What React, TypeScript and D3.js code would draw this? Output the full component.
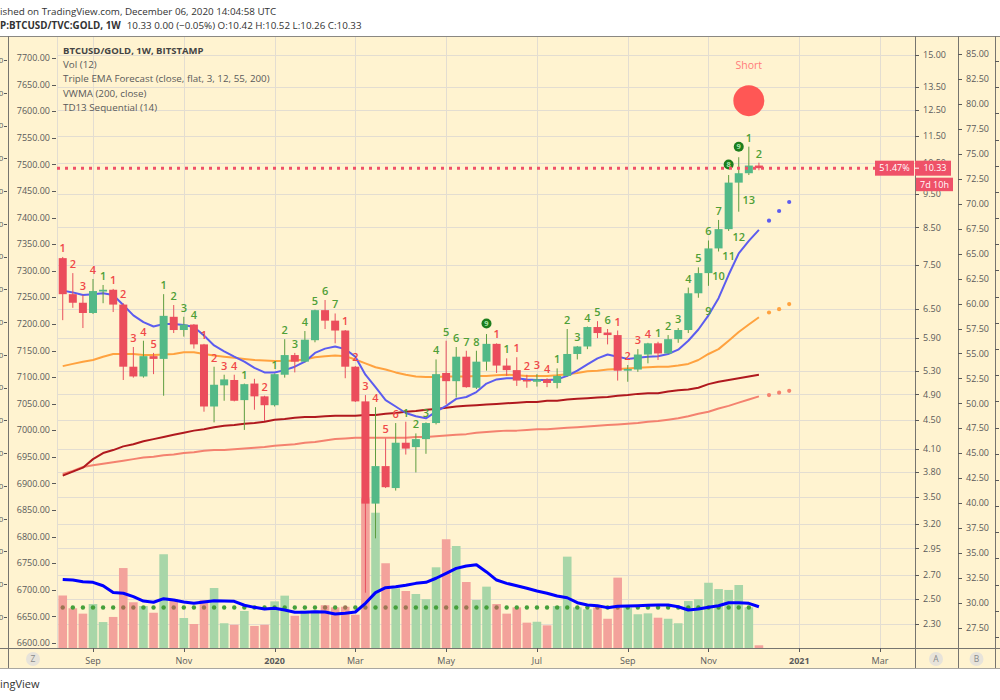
import React from "react";
import * as d3 from "d3";

// ---------- categories ----------
const weeks: Date[] = d3.utcMonday.range(new Date(Date.UTC(2019, 7, 12)), new Date(Date.UTC(2020, 11, 8)));
const forecastWeeks: Date[] = [new Date(Date.UTC(2020, 11, 14)), new Date(Date.UTC(2020, 11, 21)), new Date(Date.UTC(2020, 11, 28))];

// ---------- price (BTCUSD/GOLD) ----------
const opens = [7.68, 6.82, 6.63, 6.41, 6.88, 6.92, 6.59, 5.37, 5.20, 5.56, 5.51, 6.33, 6.06, 6.17, 5.78, 4.71, 5.05, 5.14, 4.81, 5.08, 4.87, 4.73, 5.23, 5.58, 5.46, 5.86, 6.47, 6.25, 6.05, 5.37, 4.79, 3.42, 3.87, 3.60, 4.18, 4.12, 4.23, 4.46, 5.26, 5.12, 5.55, 5.01, 5.46, 5.79, 5.39, 5.31, 5.14, 5.11, 5.15, 5.09, 5.21, 5.60, 5.74, 6.12, 6.01, 5.96, 5.30, 5.32, 5.59, 5.80, 5.61, 5.88, 6.06, 6.84, 7.31, 7.93, 8.45, 9.85, 10.16, 10.42];
const highs = [7.71, 7.31, 6.80, 7.17, 7.03, 6.94, 6.62, 5.73, 5.85, 5.62, 6.82, 6.58, 6.33, 6.18, 5.79, 5.37, 5.23, 5.23, 5.08, 5.16, 4.88, 5.25, 5.88, 5.62, 6.04, 6.48, 6.69, 6.40, 6.06, 5.38, 4.89, 4.70, 4.24, 4.46, 4.48, 4.31, 4.47, 5.50, 5.85, 5.73, 5.66, 5.66, 5.98, 5.80, 5.52, 5.54, 5.23, 5.24, 5.17, 5.34, 6.08, 5.75, 6.13, 6.24, 6.08, 6.05, 5.40, 5.69, 5.81, 5.83, 5.96, 6.10, 6.97, 7.45, 8.14, 8.71, 10.10, 10.71, 11.09, 10.52];
const lows = [6.26, 6.52, 6.10, 6.39, 6.62, 6.43, 5.14, 5.18, 5.18, 5.24, 4.88, 6.00, 5.93, 5.70, 4.63, 4.47, 4.80, 4.79, 4.36, 4.66, 4.49, 4.71, 5.18, 5.27, 5.45, 5.82, 6.08, 5.80, 5.17, 4.78, 2.55, 3.05, 3.60, 3.57, 4.02, 3.79, 4.03, 4.44, 4.75, 4.85, 5.01, 4.99, 5.30, 5.26, 5.21, 5.04, 5.01, 5.03, 5.02, 5.00, 5.20, 5.50, 5.69, 5.90, 5.78, 5.13, 5.11, 5.28, 5.43, 5.49, 5.60, 5.81, 6.00, 6.74, 7.01, 7.85, 8.40, 8.95, 10.10, 10.26];
const closes = [6.82, 6.63, 6.41, 6.89, 6.92, 6.59, 5.37, 5.20, 5.56, 5.51, 6.35, 6.06, 6.17, 5.78, 4.71, 5.06, 5.15, 4.80, 5.07, 4.87, 4.73, 5.24, 5.58, 5.46, 5.87, 6.47, 6.25, 6.05, 5.37, 4.79, 3.42, 3.87, 3.61, 4.18, 4.10, 4.23, 4.46, 5.24, 5.12, 5.55, 5.02, 5.46, 5.79, 5.39, 5.31, 5.13, 5.12, 5.15, 5.09, 5.21, 5.60, 5.74, 6.12, 6.00, 5.96, 5.30, 5.33, 5.59, 5.80, 5.61, 5.88, 6.06, 6.84, 7.31, 7.93, 8.45, 9.85, 10.16, 10.42, 10.33];

// ---------- volume ----------
const volumes = [35, 26.5, 22.9, 29.3, 17.3, 20.7, 53.3, 30.5, 28, 23.5, 62.5, 32.7, 20, 16, 32, 40, 16.5, 15.5, 24.7, 14.7, 15.5, 31.1, 34.9, 21.5, 24.9, 24.9, 28.5, 27.1, 27.5, 22.2, 99.8, 90.2, 56.5, 39.8, 38, 36, 32.5, 53.8, 72.5, 68, 44, 32, 40.9, 29.3, 22.9, 27.1, 16.9, 17.5, 15.1, 28, 60.9, 27.1, 25.8, 27.1, 19.5, 46.9, 27.1, 22.5, 23.1, 20.2, 19.5, 16.5, 31.3, 32.5, 43.5, 39.3, 38.7, 42, 27.1, 1.8];
const volMA = [45.7, 45.3, 44.2, 43.8, 41.5, 37, 36.5, 34.2, 31.3, 30.5, 32.9, 32, 30.7, 29.8, 30.7, 31.5, 31.3, 31.1, 28.5, 27.1, 26, 26.5, 25.3, 23.8, 23.8, 24.2, 24, 22.7, 23.1, 24, 29.8, 36.9, 40.2, 40.9, 41.8, 43.1, 43.8, 46.5, 49.8, 53.1, 54.7, 55.5, 50.7, 45.3, 43.1, 41.5, 39.8, 38, 36.5, 34.7, 33.5, 30.2, 28.7, 28.2, 26.9, 27.8, 28, 28.2, 28.5, 28.7, 28.7, 27.5, 25.3, 26, 27.1, 28.2, 30.2, 30.2, 29.8, 27.5];
const dotLevel = 27;
const dotColors = "bgggggbbgggbggbgggggggggggbgbgbgbgbgggbgbggbgggggggggbgbggggggggggggg";

// ---------- Triple EMA forecast / VWMA ----------
const emaFast = [6.90, 6.86, 6.80, 6.82, 6.84, 6.80, 6.58, 6.36, 6.22, 6.13, 6.18, 6.18, 6.16, 6.12, 5.95, 5.76, 5.65, 5.55, 5.46, 5.35, 5.27, 5.27, 5.31, 5.37, 5.46, 5.62, 5.70, 5.74, 5.69, 5.55, 5.23, 5.02, 4.81, 4.71, 4.61, 4.56, 4.53, 4.63, 4.72, 4.83, 4.86, 4.94, 5.08, 5.15, 5.17, 5.17, 5.15, 5.14, 5.14, 5.15, 5.21, 5.30, 5.41, 5.52, 5.59, 5.55, 5.51, 5.53, 5.55, 5.56, 5.60, 5.68, 5.85, 6.07, 6.36, 6.73, 7.27, 7.80, 8.13, 8.43];
const emaFastForecast = [8.69, 8.97, 9.24];
const emaMid = [5.38, 5.42, 5.46, 5.49, 5.55, 5.60, 5.60, 5.60, 5.58, 5.58, 5.59, 5.60, 5.63, 5.63, 5.60, 5.57, 5.55, 5.53, 5.51, 5.49, 5.48, 5.47, 5.47, 5.48, 5.50, 5.54, 5.56, 5.57, 5.56, 5.50, 5.43, 5.36, 5.32, 5.27, 5.23, 5.20, 5.19, 5.19, 5.20, 5.20, 5.20, 5.21, 5.21, 5.22, 5.23, 5.22, 5.21, 5.21, 5.21, 5.22, 5.24, 5.26, 5.29, 5.30, 5.32, 5.33, 5.34, 5.35, 5.36, 5.37, 5.37, 5.39, 5.42, 5.49, 5.60, 5.69, 5.85, 6.02, 6.17, 6.32];
const emaMidForecast = [6.42, 6.49, 6.60];
const vwma = [3.75, 3.80, 3.85, 3.96, 4.04, 4.08, 4.13, 4.16, 4.20, 4.23, 4.26, 4.29, 4.32, 4.35, 4.37, 4.40, 4.42, 4.43, 4.45, 4.46, 4.48, 4.51, 4.52, 4.54, 4.55, 4.55, 4.56, 4.57, 4.57, 4.57, 4.58, 4.58, 4.60, 4.61, 4.63, 4.64, 4.66, 4.67, 4.69, 4.71, 4.72, 4.73, 4.74, 4.75, 4.76, 4.77, 4.78, 4.78, 4.80, 4.80, 4.82, 4.83, 4.84, 4.85, 4.86, 4.88, 4.89, 4.91, 4.92, 4.92, 4.95, 4.97, 4.98, 5.01, 5.07, 5.11, 5.14, 5.17, 5.20, 5.23];
const emaSlow = [3.77, 3.81, 3.86, 3.88, 3.90, 3.92, 3.94, 3.96, 3.98, 3.99, 4.01, 4.02, 4.04, 4.05, 4.07, 4.08, 4.08, 4.09, 4.10, 4.11, 4.12, 4.14, 4.15, 4.16, 4.18, 4.19, 4.21, 4.23, 4.24, 4.25, 4.25, 4.25, 4.25, 4.25, 4.25, 4.26, 4.26, 4.27, 4.28, 4.29, 4.30, 4.32, 4.33, 4.34, 4.35, 4.35, 4.36, 4.37, 4.37, 4.38, 4.39, 4.40, 4.41, 4.42, 4.43, 4.44, 4.45, 4.46, 4.48, 4.49, 4.51, 4.53, 4.56, 4.60, 4.63, 4.68, 4.72, 4.77, 4.82, 4.87];
const emaSlowForecast = [4.89, 4.93, 4.96];

// ---------- TD Sequential ----------
const tdSetup = ["1", "2", "3", "4", "1", "1", "2", "3", "4", "5", "1", "2", "3", "4", "1", "2", "3", "4", "1", "", "2", "1", "2", "3", "4", "5", "6", "7", "1", "2", "3", "4", "5", "6", "1", "2", "3", "4", "5", "6", "7", "8", "9", "1", "1", "1", "2", "3", "4", "1", "2", "3", "4", "5", "6", "1", "2", "3", "4", "1", "2", "3", "4", "5", "6", "7", "8", "9", "1", "2"];
const tdColors = "rrrrgrrrrrggggrrrrgrrgggggggrrrrrrgggggggggrgrrrrggggggrrrrggggggggggg";
const tdCircled = [42, 66, 67];
const tdCountdown = [{ i: 64, t: "9" }, { i: 65, t: "10" }, { i: 66, t: "11" }, { i: 67, t: "12" }, { i: 68, t: "13" }];
const signalIndex = 68;
const signalText = "Short";

// ---------- axes ----------
const priceTicks = [15, 13.5, 12.5, 11.5, 10.5, 9.5, 8.5, 7.5, 6.5, 5.9, 5.3, 4.9, 4.5, 4.1, 3.8, 3.5, 3.2, 2.95, 2.7, 2.5, 2.3];
const leftTicks = d3.range(6600, 7701, 50);
const bTicks = d3.range(27.5, 85.01, 2.5);
const farLeftTicks = d3.range(10, 181, 10);
const farRightTicks = d3.range(0, 23, 1);
const timeTicks = [
  { d: "2019-09-02", l: "Sep" }, { d: "2019-11-04", l: "Nov" }, { d: "2020-01-06", l: "2020", b: true },
  { d: "2020-03-02", l: "Mar" }, { d: "2020-05-04", l: "May" }, { d: "2020-07-06", l: "Jul" },
  { d: "2020-09-07", l: "Sep" }, { d: "2020-11-02", l: "Nov" }, { d: "2021-01-04", l: "2021", b: true },
  { d: "2021-03-01", l: "Mar" },
];
const lastClose = 10.33;
const changePct = "51.47%";
const countdownText = "7d 10h";
const legendTitle = "BTCUSD/GOLD, 1W, BITSTAMP";
const legendLines = ["Vol (12)", "Triple EMA Forecast (close, flat, 3, 12, 55, 200)", "VWMA (200, close)", "TD13 Sequential (14)"];

const FONT = "'Open Sans', 'DejaVu Sans', sans-serif";
const BG = "#fff3d0";
const GRID = "#e3ddd1";
const AXISC = "#77756f";
const TXT = "#5a5a5a";
const UP = "#53b987";
const DOWN = "#eb4d5c";
const UPW = "#5e9d3f";
const DOWNW = "#e8505e";
const TDR = "#f04848";
const TDG = "#4f9f37";
const LABEL = "#ef5168";

export default function App() {
  const W = 1000, H = 700;
  const L = 57, R = 915, T = 36, B = 648;
  const x = d3.scaleUtc().domain([new Date(Date.UTC(2019, 8, 2)), new Date(Date.UTC(2021, 2, 1))]).range([93, 880]);
  const y = d3.scaleLog().domain([2.3, 15]).range([624, 55]);
  const yL = d3.scaleLinear().domain([6600, 7700]).range([643, 58]);
  const yB = d3.scaleLinear().domain([27.5, 85]).range([628, 54]);
  const yV = d3.scaleLinear().domain([0, 100]).range([648, 498]);
  const yFL = d3.scaleLinear().domain([10, 180]).range([617, 60]);
  const yFR = d3.scaleLinear().domain([0, 22]).range([637, 61]);
  const bodyW = 8, volW = 8.6;

  const priceLine = d3.line<number>().x((_, i) => x(weeks[i])).y((d) => y(d));
  const volLine = d3.line<number>().x((_, i) => x(weeks[i])).y((d) => yV(d));

  const lines = [
    { v: emaSlow, f: emaSlowForecast, c: "#f4826f" },
    { v: vwma, f: null, c: "#b0191e" },
    { v: emaMid, f: emaMidForecast, c: "#ffa23f" },
    { v: emaFast, f: emaFastForecast, c: "#5c5cef" },
  ];

  const sx = x(weeks[signalIndex]);
  const sy = y(highs[signalIndex]);
  const yClose = y(lastClose);

  return (
    <div style={{ position: "absolute", left: 0, top: 0, width: W, height: H }}>
      <svg width={W} height={H} style={{ display: "block" }} fontFamily={FONT}>
        <defs>
          <clipPath id="plotClip">
            <rect x={L} y={T} width={R - L} height={B - T} />
          </clipPath>
        </defs>
        <rect width={W} height={H} fill="#ffffff" />
        <rect x={0} y={T} width={W} height={668 - T} fill={BG} />

        {/* header */}
        <text x={0} y={14.5} fontSize={9.8} fill="#333">ished on TradingView.com, December 06, 2020 14:04:58 UTC</text>
        <text x={0} y={29} fontSize={9.8} fill="#333">
          <tspan fontWeight="bold">P:BTCUSD/TVC:GOLD, 1W</tspan>
          <tspan dx={6}>10.33 0.00 (−0.05%) O:10.42 H:10.52 L:10.26 C:10.33</tspan>
        </text>

        {/* grid */}
        <g clipPath="url(#plotClip)">
          <line x1={L + 0.5} x2={L + 0.5} y1={T} y2={B} stroke={GRID} />
          {priceTicks.map((t) => (
            <line key={"h" + t} x1={L} x2={R} y1={Math.round(y(t)) + 0.5} y2={Math.round(y(t)) + 0.5} stroke={GRID} />
          ))}
          {timeTicks.map((t) => {
            const xx = Math.round(x(new Date(t.d + "T00:00:00Z"))) + 0.5;
            return <line key={"v" + t.d} x1={xx} x2={xx} y1={T} y2={B} stroke={GRID} />;
          })}

          {/* volume */}
          {volumes.map((v, i) => (
            <rect key={"vb" + i} x={x(weeks[i]) - volW / 2} y={yV(v)} width={volW} height={yV(0) - yV(v)}
              fill={closes[i] >= opens[i] ? "#a8d6a8" : "#f3a29b"} />
          ))}
          {weeks.slice(0, dotColors.length).map((w, i) => (
            <circle key={"dt" + i} cx={x(w)} cy={yV(dotLevel)} r={2.2} fill={dotColors[i] === "b" ? "#9a7652" : "#45a03a"} />
          ))}
          <path d={volLine(volMA) || ""} fill="none" stroke="#0000ff" strokeWidth={3} strokeLinejoin="round" />

          {/* indicator lines */}
          {lines.map((ln, li) => (
            <g key={"ln" + li}>
              <path d={priceLine(ln.v) || ""} fill="none" stroke={ln.c} strokeWidth={2} strokeLinejoin="round" />
              {ln.f && ln.f.map((fv, fi) => (
                <circle key={"f" + fi} cx={x(forecastWeeks[fi])} cy={y(fv)} r={2.1} fill={ln.c} />
              ))}
            </g>
          ))}

          {/* candles */}
          {weeks.map((w, i) => {
            const up = closes[i] >= opens[i];
            const cx = x(w);
            const top = y(Math.max(opens[i], closes[i]));
            const bot = y(Math.min(opens[i], closes[i]));
            return (
              <g key={"c" + i}>
                <line x1={cx} x2={cx} y1={y(highs[i])} y2={y(lows[i])} stroke={up ? UPW : DOWNW} strokeWidth={1} />
                <rect x={cx - bodyW / 2} y={top} width={bodyW} height={Math.max(1.5, bot - top)} fill={up ? UP : DOWN} />
              </g>
            );
          })}

          {/* TD setup numbers */}
          {tdSetup.map((t, i) => {
            if (!t) return null;
            const cx = x(weeks[i]);
            const hy = y(highs[i]);
            if (tdCircled.includes(i)) {
              return (
                <g key={"td" + i}>
                  <circle cx={cx} cy={hy - 10.5} r={5} fill="#1d7d1d" />
                  <text x={cx} y={hy - 8} fontSize={7.5} fontWeight="bold" textAnchor="middle" fill="#a9e5a9">{t}</text>
                </g>
              );
            }
            return (
              <text key={"td" + i} x={cx} y={hy - 5} fontSize={11} fontWeight={600} textAnchor="middle" fill={tdColors[i] === "r" ? TDR : TDG}>{t}</text>
            );
          })}
          {tdCountdown.map((c) => (
            <text key={"cd" + c.i} x={x(weeks[c.i])} y={y(lows[c.i]) + 29} fontSize={11} fontWeight={600} textAnchor="middle" fill={TDG}>{c.t}</text>
          ))}

          {/* signal */}
          <circle cx={sx} cy={sy - 46} r={15.5} fill="#ff4a4a" fillOpacity={0.92} />
          <text x={sx} y={sy - 78} fontSize={10.5} textAnchor="middle" fill="#ff7a7a">{signalText}</text>

          {/* last price line */}
          <line x1={L} x2={875} y1={yClose} y2={yClose} stroke={LABEL} strokeWidth={3} strokeDasharray="3 5" />
        </g>

        {/* legend */}
        <text x={63} y={53.5} fontSize={9.5} fontWeight="bold" fill="#444">{legendTitle}</text>
        {legendLines.map((s, i) => (
          <text key={"lg" + i} x={63} y={68 + i * 14.4} fontSize={9.8} fill={TXT}>{s}</text>
        ))}

        {/* frame lines */}
        <line x1={0} x2={W} y1={T + 0.5} y2={T + 0.5} stroke="#8a8882" />
        <line x1={0} x2={W} y1={B + 0.5} y2={B + 0.5} stroke={AXISC} />
        <line x1={0} x2={W} y1={668.5} y2={668.5} stroke="#a9a7a1" />
        {[8, 915, 958, 995].map((vx) => (
          <line key={"sep" + vx} x1={vx + 0.5} x2={vx + 0.5} y1={T} y2={668} stroke={AXISC} />
        ))}

        {/* far-left axis (only the last digit fits in the window) */}
        {farLeftTicks.map((t) => (
          <g key={"fl" + t}>
            <text x={3.2} y={yFL(t)} dy="0.35em" fontSize={8} textAnchor="end" fill={TXT}>{d3.format(".2f")(t).slice(-1)}</text>
            <line x1={4} x2={7} y1={Math.round(yFL(t)) + 0.5} y2={Math.round(yFL(t)) + 0.5} stroke={TXT} />
          </g>
        ))}

        {/* left axis */}
        {leftTicks.map((t) => (
          <g key={"la" + t}>
            <text x={50} y={yL(t)} dy="0.35em" fontSize={9} textAnchor="end" fill={TXT}>{d3.format(".2f")(t)}</text>
            <line x1={52} x2={56} y1={Math.round(yL(t)) + 0.5} y2={Math.round(yL(t)) + 0.5} stroke={TXT} />
          </g>
        ))}

        {/* right axis A (price, log) */}
        {priceTicks.map((t) => (
          <g key={"ra" + t}>
            <line x1={915} x2={919} y1={Math.round(y(t)) + 0.5} y2={Math.round(y(t)) + 0.5} stroke={TXT} />
            <text x={923} y={y(t)} dy="0.35em" fontSize={9} fill={TXT}>{d3.format(".2f")(t)}</text>
          </g>
        ))}

        {/* right axis B */}
        {bTicks.map((t) => (
          <g key={"rb" + t}>
            <line x1={958} x2={962} y1={Math.round(yB(t)) + 0.5} y2={Math.round(yB(t)) + 0.5} stroke={TXT} />
            <text x={966} y={yB(t)} dy="0.35em" fontSize={9} fill={TXT}>{d3.format(".2f")(t)}</text>
          </g>
        ))}

        {/* far-right clipped axis ticks */}
        {farRightTicks.map((t) => (
          <line key={"fr" + t} x1={995} x2={999} y1={Math.round(yFR(t)) + 0.5} y2={Math.round(yFR(t)) + 0.5} stroke={TXT} />
        ))}

        {/* price labels */}
        <rect x={875} y={yClose - 7.5} width={39} height={15} fill={LABEL} />
        <text x={894.5} y={yClose} dy="0.35em" fontSize={9} textAnchor="middle" fill="#fff">{changePct}</text>
        <rect x={915} y={yClose - 7.5} width={36} height={15} fill={LABEL} />
        <line x1={915} x2={919} y1={yClose} y2={yClose} stroke="#fff" />
        <text x={935} y={yClose} dy="0.35em" fontSize={9} textAnchor="middle" fill="#fff">{d3.format(".2f")(lastClose)}</text>
        <rect x={916} y={yClose + 9.5} width={37} height={13.5} fill={LABEL} />
        <text x={934.5} y={yClose + 16.2} dy="0.35em" fontSize={9} textAnchor="middle" fill="#fff">{countdownText}</text>

        {/* time axis */}
        {timeTicks.map((t) => {
          const xx = x(new Date(t.d + "T00:00:00Z"));
          return (
            <g key={"tt" + t.d}>
              <line x1={Math.round(xx) + 0.5} x2={Math.round(xx) + 0.5} y1={B} y2={B + 4} stroke={TXT} />
              <text x={xx} y={663.5} fontSize={9} textAnchor="middle" fontWeight={t.b ? "bold" : "normal"} fill={TXT}>{t.l}</text>
            </g>
          );
        })}
        {[{ cx: 33, l: "Z" }, { cx: 936, l: "A" }, { cx: 976.5, l: "B" }].map((b) => (
          <g key={"btn" + b.l}>
            <circle cx={b.cx} cy={659} r={7} fill="#e7e3da" />
            <text x={b.cx} y={659} dy="0.35em" fontSize={8.5} textAnchor="middle" fill="#8a8a8a">{b.l}</text>
          </g>
        ))}

        {/* footer */}
        <text x={0} y={688} fontSize={11} fill="#333">ingView</text>
      </svg>
    </div>
  );
}
